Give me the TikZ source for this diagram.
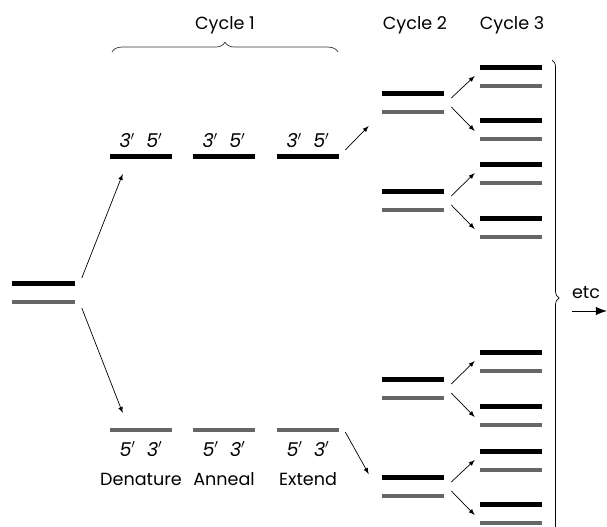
\documentclass[tikz,border=0pt]{standalone}
\usepackage{fontspec}
\setmainfont{Poppins}
\usetikzlibrary{positioning,arrows,arrows.meta,decorations.pathreplacing}

\tikzset{
  fwd/.style={fill=black, inner sep=0, minimum width=1.55cm, minimum height=0.125cm},
  rev/.style={fill=black!60, inner sep=0, minimum width=1.55cm, minimum height=0.1cm},
  lbl/.style={font=\fontsize{12.5}{14}\selectfont, inner sep=0},
  arr/.style={-latex, line width=0.5},
  brc/.style={decorate, decoration={brace, amplitude=7pt}, line width=0.5},
}

\begin{document}
\begin{tikzpicture}[x=0.025cm,y=-0.025cm]
\useasboundingbox (0,0) rectangle (607,527);

\node[fwd] (s0) at (43.5,283) {};
\node[rev] (r0) at (43.5,302) {};

\node[fwd] (c1a) at (141,156) {};
\node[fwd] (c1b) at (224,156) {};
\node[fwd] (c1c) at (308,156) {};
\node[rev] (d1a) at (141,430) {};
\node[rev] (d1b) at (224,430) {};
\node[rev] (d1c) at (308,430) {};

\foreach \n/\y in {a/93,b/191,c/379,d/477}{
  \node[fwd] (c2\n) at (413,\y) {};
  \node[rev] (d2\n) at (413,\y+19) {};
}
\foreach \n/\y in {a/67,b/120,c/164,d/218,e/352,f/406,g/451,h/504}{
  \node[fwd] (c3\n) at (511,\y) {};
  \node[rev] (d3\n) at (511,\y+19) {};
}

\foreach \s in {c1a,c1b,c1c}
  \node[lbl, above=0.13cm of \s] {\fontsize{13.5}{15}\selectfont\itshape 3$'$\hspace{0.6em}5$'$};
\foreach \s/\t in {d1a/Denature,d1b/Anneal,d1c/Extend}{
  \node[lbl, below=0.23cm of \s] (p\s) {\fontsize{13.5}{15}\selectfont\itshape 5$'$\hspace{0.6em}3$'$};
  \node[lbl, below=0.4cm of p\s] {\t};
}

\draw[arr] ([shift={(7,-5)}]s0.east) -- ([shift={(13,18)}]c1a.west);
\draw[arr] ([shift={(7,6)}]r0.east) -- ([shift={(13,-17)}]d1a.west);
\draw[arr] ([shift={(6,-6)}]c1c.east) -- ([shift={(-13,33)}]c2a.west);
\draw[arr] ([shift={(6,2)}]d1c.east) -- ([shift={(-13,-22)}]d2d.west);

\foreach \p/\u/\d in {a/a/b,b/c/d,c/e/f,d/g/h}{
  \draw[arr] ([shift={(7,5)}]c2\p.east) -- ([shift={(-5,9)}]c3\u.west);
  \draw[arr] ([shift={(7,14)}]c2\p.east) -- ([shift={(-5,11)}]c3\d.west);
}

\draw[brc, black!80] (112,52) -- (338,52);
\node[lbl] (cyc1) at (225,25) {Cycle 1};
\node[lbl] (cyc2) at (415,25) {Cycle 2};
\node[lbl] (cyc3) at (512,25) {Cycle 3};

\draw[brc, decoration={amplitude=5pt}] (552,60) -- (552,536);
\coordinate (e0) at (572,311);
\coordinate (e1) at (607,311);
\draw[-{Latex[length=8pt,width=6pt]}, line width=0.7] (e0) -- (e1);
\node[lbl] (etc) at (586,293) {etc};
\end{tikzpicture}
\end{document}
